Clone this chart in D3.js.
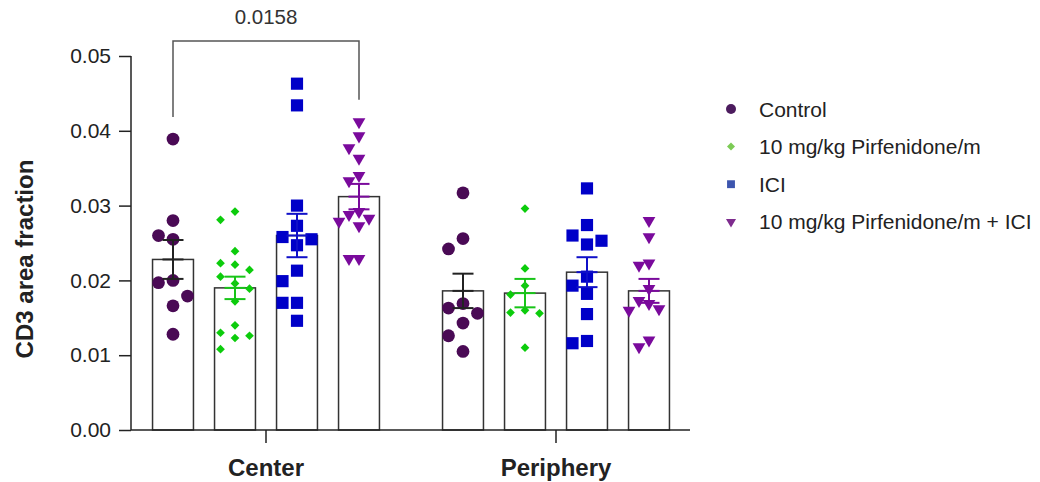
<!DOCTYPE html>
<html>
<head>
<meta charset="utf-8">
<script src="https://cdn.jsdelivr.net/npm/d3@7"></script>
<style>
  body { margin: 0; background: #fff; }
  svg { display: block; font-family: Arial, "Liberation Sans", sans-serif; }
</style>
</head>
<body>
<div id="chart"></div>
<script>
// --- Data ---
const categories = ["Center", "Periphery"];
const groups = ["Control", "10 mg/kg Pirfenidone/m", "ICI", "10 mg/kg Pirfenidone/m + ICI"];

const centerControl = [0.0389, 0.0280, 0.0260, 0.0255, 0.0200, 0.0197, 0.0179, 0.0166, 0.0128];
const centerPirf = [0.0292, 0.0281, 0.0239, 0.0223, 0.0221, 0.0214, 0.0205, 0.0196, 0.0189, 0.0172, 0.0140, 0.0130, 0.0126, 0.0123, 0.0108];
const centerICI = [0.0463, 0.0434, 0.0300, 0.0273, 0.0258, 0.0255, 0.0247, 0.0213, 0.0199, 0.0170, 0.0170, 0.0146];
const centerCombo = [0.0412, 0.0393, 0.0377, 0.0363, 0.0340, 0.0333, 0.0292, 0.0288, 0.0283, 0.0279, 0.0273, 0.0229, 0.0229];

const periControl = [0.0317, 0.0256, 0.0242, 0.0169, 0.0163, 0.0156, 0.0143, 0.0126, 0.0105];
const periPirf = [0.0296, 0.0216, 0.0193, 0.0181, 0.0160, 0.0157, 0.0156, 0.0110];
const periICI = [0.0323, 0.0274, 0.0260, 0.0253, 0.0248, 0.0205, 0.0193, 0.0182, 0.0155, 0.0119, 0.0116];
const periCombo = [0.0280, 0.0258, 0.0223, 0.0220, 0.0189, 0.0173, 0.0169, 0.0162, 0.0160, 0.0120, 0.0111];

// bar heights (mean) and error bars (SEM)
const meanCenter = [0.0228, 0.0190, 0.0260, 0.0312];
const meanPeriphery = [0.0186, 0.0183, 0.0211, 0.0186];
const semCenter = [0.0026, 0.0015, 0.0029, 0.0017];
const semPeriphery = [0.0023, 0.0019, 0.0020, 0.0016];

const yTicks = [0, 0.01, 0.02, 0.03, 0.04, 0.05];
const pValue = "0.0158";
const yLabel = "CD3 area fraction";

// table built from the arrays above
const points = { Center: [centerControl, centerPirf, centerICI, centerCombo],
                 Periphery: [periControl, periPirf, periICI, periCombo] };
const means = { Center: meanCenter, Periphery: meanPeriphery };
const sems = { Center: semCenter, Periphery: semPeriphery };

// --- Styles ---
const FONT = "Arial, 'Liberation Sans', sans-serif";
const dotColors = ["#4a0a55", "#0ccc0c", "#0000c8", "#7a0a9c"];
const errColors = ["#222222", "#18c418", "#1010c8", "#7a0a9c"];
const legendColors = ["#4c1c5e", "#7ccb55", "#3d55ae", "#7e2c8e"];
const spread = [14.5, 14.5, 14.5, 10];   // horizontal step for overlapping points
const clash = [17, 12, 17, 13];          // vertical distance under which points collide

const width = 1040, height = 482;
const svg = d3.select("#chart").append("svg")
  .attr("width", width)
  .attr("height", height);

// --- Scales ---
const y = d3.scaleLinear().domain([0, 0.05]).range([430, 56]);

const x0 = d3.scaleBand().domain(categories).range([121, 701]);
const x1 = d3.scaleBand()
  .domain(groups)
  .range([x0.bandwidth() / 2 - 124, x0.bandwidth() / 2 + 124])
  .paddingInner(0.34)
  .paddingOuter(0.17);

function symbolPath(i, big) {
  if (i === 0) return d3.symbol(d3.symbolCircle, big ? 128 : 78)();
  if (i === 1) return d3.symbol(d3.symbolSquare, big ? 38 : 32)();
  if (i === 2) return d3.symbol(d3.symbolSquare, big ? 148 : 62)();
  return d3.symbol(d3.symbolTriangle, big ? 70 : 44)();
}
function symbolRotate(i) {
  if (i === 1) return 45;
  if (i === 3) return 180;
  return 0;
}

// simple beeswarm: put each point in the first free column slot
function swarm(values, i) {
  const s = spread[i];
  const placed = [];
  const order = d3.range(values.length).sort((a, b) => values[b] - values[a]);
  const offsets = new Array(values.length);
  order.forEach(k => {
    const py = y(values[k]);
    const cands = [0, -s, s, -2 * s, 2 * s];
    for (const dx of cands) {
      const hit = placed.some(p => Math.abs(p.dx - dx) < s * 0.9 && Math.abs(p.y - py) < clash[i]);
      if (!hit) { placed.push({ dx, y: py }); offsets[k] = dx; break; }
    }
  });
  return offsets;
}

// --- Axes ---
const yAxis = svg.append("g")
  .attr("transform", "translate(131,0)")
  .call(d3.axisLeft(y).tickValues(yTicks).tickFormat(d3.format(".2f")).tickSize(12).tickPadding(8));
yAxis.attr("font-family", FONT).attr("font-size", 21);
yAxis.select(".domain").attr("stroke", "#222").attr("stroke-width", 1.5).attr("d", "M0,56V430");
yAxis.selectAll(".tick line").attr("stroke", "#222").attr("stroke-width", 1.5);
yAxis.selectAll(".tick text")
  .style("font-family", FONT)
  .style("font-size", "21px")
  .attr("fill", "#222");

svg.append("text")
  .attr("transform", "translate(33,259) rotate(-90)")
  .attr("text-anchor", "middle")
  .attr("font-size", 24)
  .attr("font-weight", "bold")
  .attr("fill", "#222")
  .text(yLabel);

// --- Bars, error bars, points ---
categories.forEach(cat => {
  const g = svg.append("g").attr("transform", `translate(${x0(cat)},0)`);

  groups.forEach((grp, i) => {
    const cx = x1(grp) + x1.bandwidth() / 2;
    const m = means[cat][i], e = sems[cat][i];

    g.append("rect")
      .attr("x", x1(grp))
      .attr("y", y(m))
      .attr("width", x1.bandwidth())
      .attr("height", y(0) - y(m))
      .attr("fill", "white")
      .attr("stroke", "#333")
      .attr("stroke-width", 1.5);

    const vals = points[cat][i];
    const offs = swarm(vals, i);
    g.selectAll(null)
      .data(vals)
      .join("path")
      .attr("d", symbolPath(i, true))
      .attr("transform", (d, k) => `translate(${cx + offs[k]},${y(d)}) rotate(${symbolRotate(i)})`)
      .attr("fill", dotColors[i]);

    // mean +/- SEM
    const eb = g.append("g").attr("stroke", errColors[i]).attr("stroke-width", 2);
    eb.append("line").attr("x1", cx).attr("x2", cx).attr("y1", y(m + e)).attr("y2", y(m - e));
    eb.append("line").attr("x1", cx - 10.5).attr("x2", cx + 10.5).attr("y1", y(m + e)).attr("y2", y(m + e));
    eb.append("line").attr("x1", cx - 10.5).attr("x2", cx + 10.5).attr("y1", y(m - e)).attr("y2", y(m - e));
    eb.append("line").attr("x1", cx - 10.5).attr("x2", cx + 10.5).attr("y1", y(m)).attr("y2", y(m));
  });
});

// x axis drawn on top of the bars
const xAxis = svg.append("g")
  .attr("transform", "translate(0,430)")
  .call(d3.axisBottom(x0).tickSize(13).tickPadding(16));
xAxis.attr("font-family", FONT);
xAxis.select(".domain").attr("stroke", "#222").attr("stroke-width", 1.5).attr("d", "M131,0H690");
xAxis.selectAll(".tick line").attr("stroke", "#222").attr("stroke-width", 1.5);
xAxis.selectAll(".tick text")
  .style("font-family", FONT)
  .style("font-size", "24px")
  .attr("font-weight", "bold")
  .attr("fill", "#222");

// --- Significance bracket (Control vs combo, Center) ---
const bx1 = x0("Center") + x1(groups[0]) + x1.bandwidth() / 2;
const bx2 = x0("Center") + x1(groups[3]) + x1.bandwidth() / 2;
const topY = 41;
svg.append("path")
  .attr("d", `M${bx1},${y(d3.max(centerControl)) - 22}V${topY}H${bx2}V${y(d3.max(centerCombo)) - 22}`)
  .attr("fill", "none")
  .attr("stroke", "#555")
  .attr("stroke-width", 1.5);
svg.append("text")
  .attr("x", (bx1 + bx2) / 2)
  .attr("y", 24)
  .attr("text-anchor", "middle")
  .attr("font-size", 20.5)
  .attr("fill", "#333")
  .text(pValue);

// --- Legend ---
const legend = svg.append("g").attr("transform", "translate(731,109)");
groups.forEach((grp, i) => {
  const row = legend.append("g").attr("transform", `translate(0,${i * 37.6})`);
  row.append("path")
    .attr("d", symbolPath(i, false))
    .attr("transform", `rotate(${symbolRotate(i)})`)
    .attr("fill", legendColors[i]);
  row.append("text")
    .attr("x", 28)
    .attr("dy", "0.36em")
    .attr("font-size", 21)
    .attr("fill", "#222")
    .text(grp);
});
</script>
</body>
</html>
